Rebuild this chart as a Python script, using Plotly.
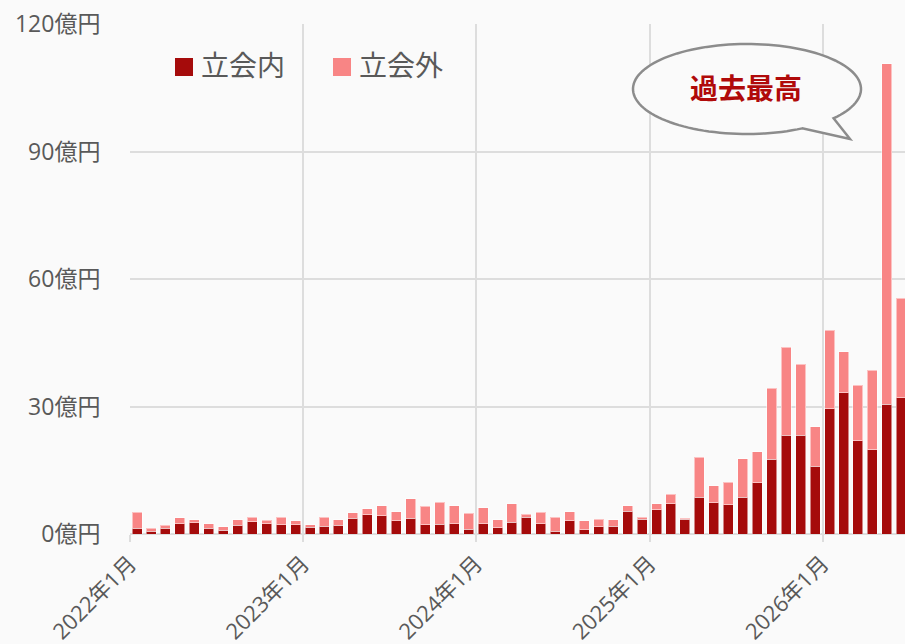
import numpy as np
import plotly.graph_objects as go

# ---- data (億円) ----
months = [f"{y}-{m:02d}" for y in range(2022, 2027) for m in range(1, 13)][:54]

inner = [  # 立会内
    1.4, 0.6, 1.3, 2.4, 2.7, 1.3, 0.9, 2.1, 2.9, 2.4, 2.2, 2.2,
    1.6, 1.8, 2.1, 3.7, 4.5, 4.3, 3.1, 3.7, 2.2, 2.3, 2.4, 1.1,
    2.4, 1.5, 2.8, 3.9, 2.4, 0.7, 3.1, 1.0, 1.7, 1.8, 5.4, 3.5,
    5.7, 7.1, 3.5, 8.7, 7.4, 6.9, 8.6, 12.1, 17.6, 23.2, 23.2, 15.9,
    29.5, 33.2, 22.0, 19.8, 30.5, 32.1,
]
outer = [  # 立会外
    3.7, 0.7, 0.8, 1.4, 0.6, 1.1, 0.75, 1.2, 1.0, 0.8, 1.7, 0.9,
    0.6, 2.1, 1.3, 1.3, 1.5, 2.3, 2.1, 4.6, 4.3, 5.2, 4.3, 3.8,
    3.8, 1.9, 4.3, 0.7, 2.7, 3.3, 2.1, 2.1, 1.8, 1.5, 1.2, 0.4,
    1.4, 2.2, 0.2, 9.4, 3.9, 5.3, 9.1, 7.2, 16.7, 20.8, 16.8, 9.3,
    18.4, 9.7, 13.0, 18.7, 80.1, 23.4,
]
series_names = ["立会内", "立会外"]
callout_text = "過去最高"

# ---- styling ----
DARK = "#A50B0B"
LIGHT = "#F88585"
GRID = "#DDDDDD"
FONT = "Open Sans, Noto Sans CJK JP"
CJK = "Noto Sans CJK JP"
TXT = "#595959"

W, H = 905, 644
L, R, T, B = 130, 0, 24, 110
PW, PH = W - L - R, H - T - B


def px(x):  # page pixel -> paper
    return (x - L) / PW


def py(y):
    return (T + PH - y) / PH


bar_w = 21 * 86400000
fig = go.Figure()
fig.add_trace(go.Bar(x=months, y=inner, name=series_names[0],
                     marker=dict(color=DARK, line=dict(color="rgba(255,255,255,0.5)", width=1)),
                     xperiod="M1", xperiodalignment="middle", width=bar_w, showlegend=False))
fig.add_trace(go.Bar(x=months, y=outer, name=series_names[1],
                     marker=dict(color=LIGHT, line=dict(color="rgba(255,255,255,0.5)", width=1)),
                     xperiod="M1", xperiodalignment="middle", width=bar_w, showlegend=False))

# speech bubble path (page pixels -> paper)
cx, cy, rx, ry = 747, 89, 114, 45
a0, a1 = np.deg2rad(61), np.deg2rad(400.6)
th = np.linspace(a0, a1, 120)
pts = [(cx + rx * np.cos(t), cy + ry * np.sin(t)) for t in th]
pts.append((850, 139))
path = "M " + " L ".join(f"{px(x):.5f},{py(y):.5f}" for x, y in pts) + " Z"

shapes = [
    dict(type="path", xref="paper", yref="paper", path=path,
         line=dict(color="#8C8C8C", width=2.5), fillcolor="#FAFAFA", layer="above"),
    dict(type="rect", xref="paper", yref="paper", x0=px(175), x1=px(193), y0=py(76), y1=py(58),
         fillcolor=DARK, line=dict(width=0)),
    dict(type="rect", xref="paper", yref="paper", x0=px(333), x1=px(351), y0=py(76), y1=py(58),
         fillcolor=LIGHT, line=dict(width=0)),
]
annotations = [
    dict(xref="paper", yref="paper", x=px(199), y=py(64), xanchor="left", yanchor="middle",
         text=series_names[0], showarrow=False, font=dict(size=28, color=TXT, family=CJK)),
    dict(xref="paper", yref="paper", x=px(357), y=py(64), xanchor="left", yanchor="middle",
         text=series_names[1], showarrow=False, font=dict(size=28, color=TXT, family=CJK)),
    dict(xref="paper", yref="paper", x=px(746), y=py(87), xanchor="center", yanchor="middle",
         text=f"<b>{callout_text}</b>", showarrow=False, font=dict(size=28, color="#B00A0A", family=CJK)),
]

fig.update_layout(
    width=W, height=H,
    margin=dict(l=L, r=R, t=T, b=B, pad=0),
    paper_bgcolor="#FAFAFA", plot_bgcolor="#FAFAFA",
    barmode="stack",
    font=dict(family=FONT, size=23, color=TXT),
    shapes=shapes, annotations=annotations,
    xaxis=dict(type="date", range=["2022-01-01", "2026-06-24"], tick0="2022-01-01", dtick="M12",
               tickformat="%Y年%-m月", tickangle=-45, showgrid=True, gridcolor=GRID, gridwidth=2,
               ticks="outside", ticklen=7, tickwidth=2, tickcolor=GRID, zeroline=False,
               showline=False, tickfont=dict(size=22), ticklabeloverflow="allow"),
    yaxis=dict(range=[0, 120], dtick=30, ticksuffix="億円", showgrid=True, gridcolor=GRID, gridwidth=2,
               zeroline=True, zerolinecolor=GRID, zerolinewidth=2, ticklabeloverflow="allow",
               ticks="outside", ticklen=24, tickcolor="rgba(0,0,0,0)"),
)

fig.write_html(
    "out.html",
    config={"displayModeBar": False},
    post_script="document.body.style.margin='0';document.body.style.overflow='hidden';"
                "document.documentElement.style.overflow='hidden';",
)
